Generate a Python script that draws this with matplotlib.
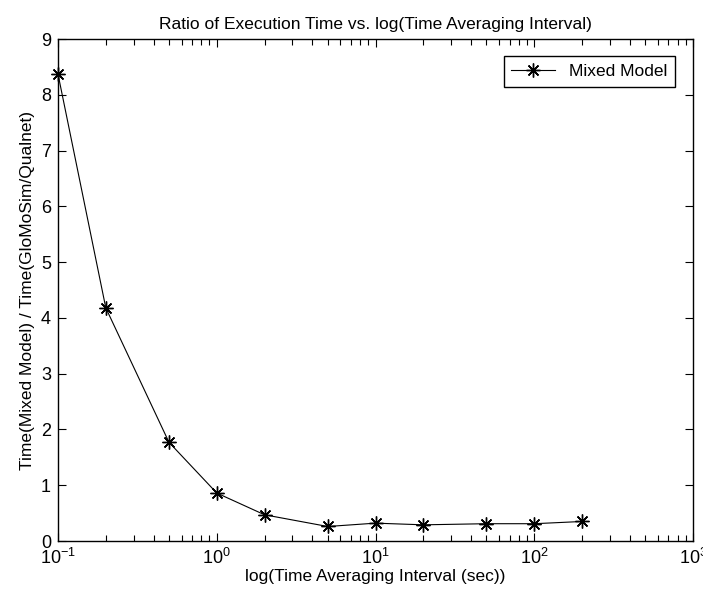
import matplotlib
matplotlib.use("Agg")
import matplotlib.pyplot as plt
from matplotlib.ticker import LogLocator

plt.rcParams['font.family'] = ['Liberation Sans', 'DejaVu Sans']

intervals = [0.1, 0.2, 0.5, 1, 2, 5, 10, 20, 50, 100, 200]
ratio = [8.37, 4.18, 1.77, 0.86, 0.47, 0.26, 0.32, 0.29, 0.31, 0.31, 0.35]
series_label = "Mixed Model"
title = "Ratio of Execution Time vs. log(Time Averaging Interval)"
xlabel = "log(Time Averaging Interval (sec))"
ylabel = "Time(Mixed Model) / Time(GloMoSim/Qualnet)"
yticks = [0, 1, 2, 3, 4, 5, 6, 7, 8, 9]

fig = plt.figure(figsize=(7.03, 6.03), dpi=100)
ax = fig.add_axes([58/703, 1-541/603, (693-58)/703, (541-39)/603])

ax.plot(intervals, ratio, color='black', linewidth=0.8, marker=(8, 2, 0),
        markersize=10, markeredgewidth=1.0, label=series_label, clip_on=False)
ax.set_xscale('log')
ax.set_xlim(0.1, 1000)
ax.set_ylim(0, 9)
ax.set_yticks(yticks)
ax.xaxis.set_major_locator(LogLocator(base=10, numticks=10))
ax.xaxis.set_minor_locator(LogLocator(base=10, subs=range(2, 10), numticks=20))

ax.tick_params(which='both', direction='in', top=True, right=True, labelsize=13, colors='black')
ax.tick_params(which='major', length=6, width=0.8, pad=5)
ax.tick_params(which='minor', length=4, width=0.8)
for s in ax.spines.values():
    s.set_linewidth(1.0)

ax.set_title(title, fontsize=12.5, pad=7)
ax.set_xlabel(xlabel, fontsize=12.5, labelpad=1)
ax.set_ylabel(ylabel, fontsize=12.5, labelpad=4)

leg = ax.legend(loc='upper right', fontsize=12.5, fancybox=False, framealpha=1,
                edgecolor='black', borderpad=0.45, handlelength=2.5,
                bbox_to_anchor=(0.985, 0.983))
leg.get_frame().set_linewidth(1.0)

fig.savefig("out.png", dpi=100)
